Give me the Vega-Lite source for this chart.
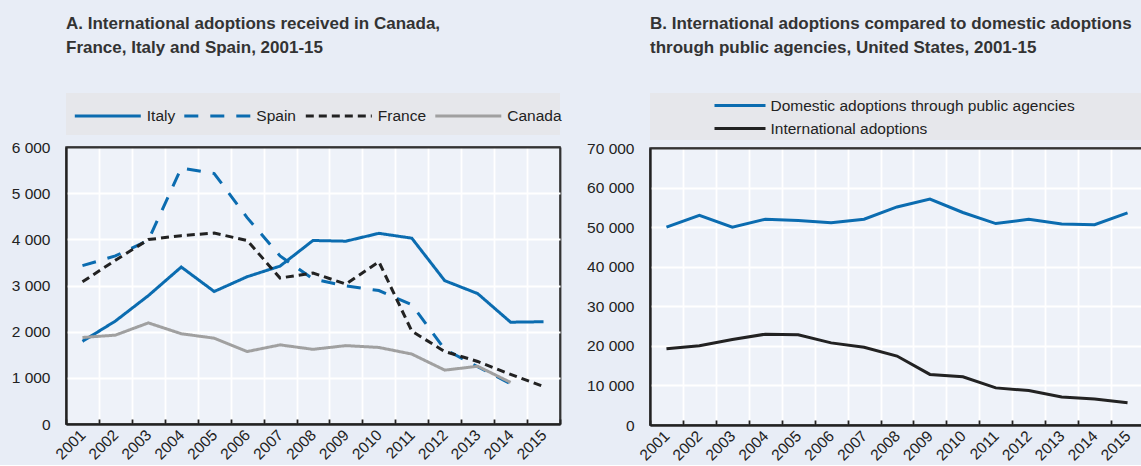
{
  "$schema": "https://vega.github.io/schema/vega-lite/v6.json",
  "padding": {"left": 10, "top": 15, "right": 0, "bottom": 0},
  "background": "#e8edf6",
  "datasets": {
    "a": [
      {"year": "2001", "country": "Italy", "value": 1790},
      {"year": "2002", "country": "Italy", "value": 2230},
      {"year": "2003", "country": "Italy", "value": 2780},
      {"year": "2004", "country": "Italy", "value": 3400},
      {"year": "2005", "country": "Italy", "value": 2870},
      {"year": "2006", "country": "Italy", "value": 3190},
      {"year": "2007", "country": "Italy", "value": 3420},
      {"year": "2008", "country": "Italy", "value": 3975},
      {"year": "2009", "country": "Italy", "value": 3960},
      {"year": "2010", "country": "Italy", "value": 4130},
      {"year": "2011", "country": "Italy", "value": 4025},
      {"year": "2012", "country": "Italy", "value": 3105},
      {"year": "2013", "country": "Italy", "value": 2825},
      {"year": "2014", "country": "Italy", "value": 2205},
      {"year": "2015", "country": "Italy", "value": 2215},
      {"year": "2001", "country": "Spain", "value": 3430},
      {"year": "2002", "country": "Spain", "value": 3640},
      {"year": "2003", "country": "Spain", "value": 3980},
      {"year": "2004", "country": "Spain", "value": 5545},
      {"year": "2005", "country": "Spain", "value": 5425},
      {"year": "2006", "country": "Spain", "value": 4470},
      {"year": "2007", "country": "Spain", "value": 3640},
      {"year": "2008", "country": "Spain", "value": 3140},
      {"year": "2009", "country": "Spain", "value": 2990},
      {"year": "2010", "country": "Spain", "value": 2890},
      {"year": "2011", "country": "Spain", "value": 2585},
      {"year": "2012", "country": "Spain", "value": 1620},
      {"year": "2013", "country": "Spain", "value": 1240},
      {"year": "2014", "country": "Spain", "value": 870},
      {"year": "2001", "country": "France", "value": 3080},
      {"year": "2002", "country": "France", "value": 3545},
      {"year": "2003", "country": "France", "value": 3995},
      {"year": "2004", "country": "France", "value": 4080},
      {"year": "2005", "country": "France", "value": 4135},
      {"year": "2006", "country": "France", "value": 3975},
      {"year": "2007", "country": "France", "value": 3162},
      {"year": "2008", "country": "France", "value": 3271},
      {"year": "2009", "country": "France", "value": 3030},
      {"year": "2010", "country": "France", "value": 3515},
      {"year": "2011", "country": "France", "value": 2010},
      {"year": "2012", "country": "France", "value": 1570},
      {"year": "2013", "country": "France", "value": 1355},
      {"year": "2014", "country": "France", "value": 1075},
      {"year": "2015", "country": "France", "value": 813},
      {"year": "2001", "country": "Canada", "value": 1874},
      {"year": "2002", "country": "Canada", "value": 1925},
      {"year": "2003", "country": "Canada", "value": 2190},
      {"year": "2004", "country": "Canada", "value": 1955},
      {"year": "2005", "country": "Canada", "value": 1859},
      {"year": "2006", "country": "Canada", "value": 1569},
      {"year": "2007", "country": "Canada", "value": 1714},
      {"year": "2008", "country": "Canada", "value": 1617},
      {"year": "2009", "country": "Canada", "value": 1698},
      {"year": "2010", "country": "Canada", "value": 1658},
      {"year": "2011", "country": "Canada", "value": 1515},
      {"year": "2012", "country": "Canada", "value": 1167},
      {"year": "2013", "country": "Canada", "value": 1250},
      {"year": "2014", "country": "Canada", "value": 901}
    ],
    "b": [
      {"year": "2001", "series": "Domestic adoptions through public agencies", "value": 50000},
      {"year": "2002", "series": "Domestic adoptions through public agencies", "value": 53000},
      {"year": "2003", "series": "Domestic adoptions through public agencies", "value": 50000},
      {"year": "2004", "series": "Domestic adoptions through public agencies", "value": 52000},
      {"year": "2005", "series": "Domestic adoptions through public agencies", "value": 51700},
      {"year": "2006", "series": "Domestic adoptions through public agencies", "value": 51100},
      {"year": "2007", "series": "Domestic adoptions through public agencies", "value": 52000},
      {"year": "2008", "series": "Domestic adoptions through public agencies", "value": 55100},
      {"year": "2009", "series": "Domestic adoptions through public agencies", "value": 57100},
      {"year": "2010", "series": "Domestic adoptions through public agencies", "value": 53700},
      {"year": "2011", "series": "Domestic adoptions through public agencies", "value": 50900},
      {"year": "2012", "series": "Domestic adoptions through public agencies", "value": 52000},
      {"year": "2013", "series": "Domestic adoptions through public agencies", "value": 50800},
      {"year": "2014", "series": "Domestic adoptions through public agencies", "value": 50600},
      {"year": "2015", "series": "Domestic adoptions through public agencies", "value": 53600},
      {"year": "2001", "series": "International adoptions", "value": 19250},
      {"year": "2002", "series": "International adoptions", "value": 20050},
      {"year": "2003", "series": "International adoptions", "value": 21620},
      {"year": "2004", "series": "International adoptions", "value": 22950},
      {"year": "2005", "series": "International adoptions", "value": 22780},
      {"year": "2006", "series": "International adoptions", "value": 20750},
      {"year": "2007", "series": "International adoptions", "value": 19650},
      {"year": "2008", "series": "International adoptions", "value": 17430},
      {"year": "2009", "series": "International adoptions", "value": 12780},
      {"year": "2010", "series": "International adoptions", "value": 12200},
      {"year": "2011", "series": "International adoptions", "value": 9380},
      {"year": "2012", "series": "International adoptions", "value": 8720},
      {"year": "2013", "series": "International adoptions", "value": 7080},
      {"year": "2014", "series": "International adoptions", "value": 6560},
      {"year": "2015", "series": "International adoptions", "value": 5650}
    ]
  },
  "spacing": 22,
  "resolve": {"scale": {"color": "independent", "strokeDash": "independent"}, "legend": {"color": "independent", "strokeDash": "independent"}},
  "hconcat": [
    {
      "title": {"text": ["A. International adoptions received in Canada,", "France, Italy and Spain, 2001-15"], "anchor": "start", "frame": "group", "offset": 36},
      "bounds": "flush",
      "spacing": 12,
      "resolve": {"scale": {"color": "independent", "strokeDash": "independent"}, "legend": {"color": "independent", "strokeDash": "independent"}},
      "vconcat": [
        {
          "width": 494,
          "height": 42,
          "view": {"fill": "#e6e7eb", "stroke": null},
          "data": {"name": "a"},
          "transform": [{"filter": "false"}],
          "mark": {"type": "line", "strokeWidth": 3},
          "encoding": {
            "x": {"field": "year", "type": "ordinal", "axis": null},
            "y": {"field": "value", "type": "quantitative", "axis": null},
            "color": {
              "field": "country", "type": "nominal",
              "scale": {"domain": ["Italy", "Spain", "France", "Canada"], "range": ["#0b6cb0", "#0b6cb0", "#222222", "#a0a0a0"]},
              "legend": {"orient": "none", "legendX": 7.3, "legendY": 10.5, "direction": "horizontal", "title": null, "symbolType": "M-1,0H5", "symbolSize": 484, "symbolStrokeWidth": 3, "labelFontSize": 15.5, "labelFont": "Liberation Sans", "labelColor": "#222222", "labelOffset": 48.5, "columnPadding": 2.5, "padding": 0, "labelLimit": 0}
            },
            "strokeDash": {
              "field": "country", "type": "nominal",
              "scale": {"domain": ["Italy", "Spain", "France", "Canada"], "range": [[1, 0], [14, 12], [8, 5], [1, 0]]},
              "legend": {"orient": "none", "legendX": 7.3, "legendY": 10.5, "direction": "horizontal", "title": null, "symbolType": "M-1,0H5", "symbolSize": 484, "symbolStrokeWidth": 3, "labelFontSize": 15.5, "labelFont": "Liberation Sans", "labelColor": "#222222", "labelOffset": 48.5, "columnPadding": 2.5, "padding": 0, "labelLimit": 0}
            }
          }
        },
        {
          "width": 494,
          "height": 277,
          "view": {"fill": "#eef2f9", "stroke": "#333333", "strokeWidth": 1.5},
          "data": {"name": "a"},
          "mark": {"type": "line", "strokeWidth": 3},
          "encoding": {
            "x": {
              "field": "year", "type": "ordinal",
              "scale": {"type": "band", "paddingInner": 0, "paddingOuter": 0},
              "axis": {"grid": true, "tickBand": "extent", "gridColor": {"condition": {"test": "datum.value == '2015' || datum.extra", "value": "#333333"}, "value": "#ffffff"}}
            },
            "y": {
              "field": "value", "type": "quantitative",
              "scale": {"domain": [0, 6000], "nice": false},
              "axis": {"grid": true, "values": [0, 1000, 2000, 3000, 4000, 5000, 6000], "format": ",d", "gridColor": {"condition": {"test": "datum.value === 0 || datum.value === 6000", "value": "#333333"}, "value": "#ffffff"}}
            },
            "color": {
              "field": "country", "type": "nominal",
              "scale": {"domain": ["Italy", "Spain", "France", "Canada"], "range": ["#0b6cb0", "#0b6cb0", "#222222", "#a0a0a0"]},
              "legend": null
            },
            "strokeDash": {
              "field": "country", "type": "nominal",
              "scale": {"domain": ["Italy", "Spain", "France", "Canada"], "range": [[1, 0], [14, 12], [8, 5], [1, 0]]},
              "legend": null
            }
          }
        }
      ]
    },
    {
      "title": {"text": ["B. International adoptions compared to domestic adoptions", "through public agencies, United States, 2001-15"], "anchor": "start", "frame": "group", "offset": 36},
      "bounds": "flush",
      "spacing": 8,
      "resolve": {"scale": {"color": "independent", "strokeDash": "independent"}, "legend": {"color": "independent", "strokeDash": "independent"}},
      "vconcat": [
        {
          "width": 494,
          "height": 47,
          "view": {"fill": "#e6e7eb", "stroke": null},
          "data": {"name": "b"},
          "transform": [{"filter": "false"}],
          "mark": {"type": "line", "strokeWidth": 3},
          "encoding": {
            "x": {"field": "year", "type": "ordinal", "axis": null},
            "y": {"field": "value", "type": "quantitative", "axis": null},
            "color": {
              "field": "series", "type": "nominal",
              "scale": {"domain": ["Domestic adoptions through public agencies", "International adoptions"], "range": ["#0b6cb0", "#222222"]},
              "legend": {"orient": "none", "legendX": 63, "legendY": 1, "direction": "vertical", "title": null, "symbolType": "M-1,0H4.1", "symbolSize": 400, "symbolStrokeWidth": 3, "labelFontSize": 15.5, "labelFont": "Liberation Sans", "labelColor": "#222222", "labelOffset": 34.5, "rowPadding": 3, "padding": 0, "labelLimit": 0}
            }
          }
        },
        {
          "width": 494,
          "height": 277,
          "view": {"fill": "#eef2f9", "stroke": "#333333", "strokeWidth": 1.5},
          "data": {"name": "b"},
          "mark": {"type": "line", "strokeWidth": 3},
          "encoding": {
            "x": {
              "field": "year", "type": "ordinal",
              "scale": {"type": "band", "paddingInner": 0, "paddingOuter": 0},
              "axis": {"grid": true, "tickBand": "extent", "gridColor": {"condition": {"test": "datum.value == '2015' || datum.extra", "value": "#333333"}, "value": "#ffffff"}}
            },
            "y": {
              "field": "value", "type": "quantitative",
              "scale": {"domain": [0, 70000], "nice": false},
              "axis": {"grid": true, "values": [0, 10000, 20000, 30000, 40000, 50000, 60000, 70000], "format": ",d", "gridColor": {"condition": {"test": "datum.value === 0 || datum.value === 70000", "value": "#333333"}, "value": "#ffffff"}}
            },
            "color": {
              "field": "series", "type": "nominal",
              "scale": {"domain": ["Domestic adoptions through public agencies", "International adoptions"], "range": ["#0b6cb0", "#222222"]},
              "legend": null
            }
          }
        }
      ]
    }
  ],
  "config": {
    "font": "Liberation Sans",
    "locale": {"number": {"decimal": ".", "thousands": " ", "grouping": [3], "currency": ["", ""]}},
    "title": {"font": "Liberation Sans", "fontSize": 17, "fontWeight": "bold", "color": "#333333", "lineHeight": 24},
    "axis": {"title": null, "labelFont": "Liberation Sans", "labelFontSize": 15.5, "labelColor": "#222222", "gridWidth": 1.8, "domainColor": "#222222", "domainWidth": 2},
    "axisX": {"labelAngle": -45, "labelAlign": "right", "labelBaseline": "middle", "tickColor": "#222222", "tickSize": -5, "tickWidth": 1.8, "labelPadding": 13},
    "axisY": {"ticks": false, "labelPadding": 16}
  }
}
